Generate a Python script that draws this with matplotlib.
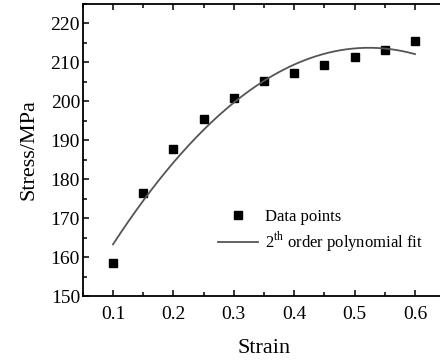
import numpy as np
from matplotlib import pyplot as plt
from matplotlib.ticker import MultipleLocator

plt.rcParams['font.family'] = ['Liberation Serif', 'DejaVu Serif']
plt.rcParams['mathtext.fontset'] = 'custom'
plt.rcParams['mathtext.rm'] = 'Liberation Serif'

# measured points
strain = [0.10, 0.15, 0.20, 0.25, 0.30, 0.35, 0.40, 0.45, 0.50, 0.55, 0.60]
stress = [158.5, 176.4, 187.7, 195.4, 200.9, 205.1, 207.2, 209.3, 211.3, 213.3, 215.5]

# second order fit through the points
coef = np.polyfit(strain, stress, 2)
x_fit = np.linspace(strain[0], strain[-1], 200)
y_fit = np.polyval(coef, x_fit)

fig = plt.figure(figsize=(4.4, 3.62), dpi=100)
# axes run past the right edge of the figure, as in the source image
ax = fig.add_axes([0.1882, 0.1823, 0.8236, 0.8066])

ax.plot(strain, stress, 's', color='black', markersize=6, label='Data points')
ax.plot(x_fit, y_fit, '-', color='#555555', lw=1.3, label='2$^{\\rm th}$ order polynomial fit')

ax.set_xlim(0.05, 0.65)
ax.set_ylim(150, 225)
ax.xaxis.set_major_locator(MultipleLocator(0.1))
ax.xaxis.set_minor_locator(MultipleLocator(0.05))
ax.yaxis.set_major_locator(MultipleLocator(10))
ax.yaxis.set_minor_locator(MultipleLocator(5))
ax.set_yticks([150, 160, 170, 180, 190, 200, 210, 220])
ax.tick_params(which='both', direction='in', top=True, right=False, labelsize=14, width=1.1)
ax.tick_params(which='major', length=4)
ax.tick_params(which='minor', length=3)
ax.tick_params(axis='x', pad=7)
ax.tick_params(axis='y', pad=2)
for s in ax.spines.values():
    s.set_linewidth(1.3)

ax.set_xlabel('Strain', fontsize=16, labelpad=12)
ax.set_ylabel('Stress/MPa', fontsize=16, labelpad=9)

ax.legend(loc='center left', bbox_to_anchor=(0.342, 0.221), frameon=False, fontsize=12,
          handlelength=2.4, handletextpad=0.4, labelspacing=0.3, borderpad=0.2)

plt.savefig('out.png', dpi=100)
